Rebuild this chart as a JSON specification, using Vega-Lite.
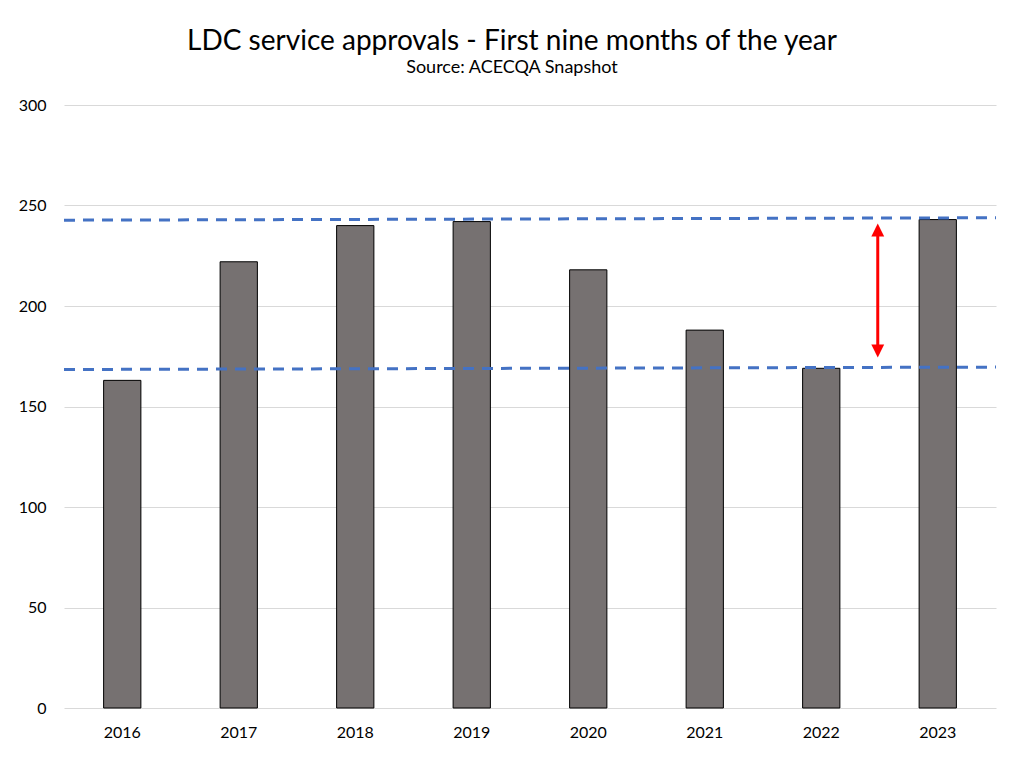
{
  "$schema": "https://vega.github.io/schema/vega-lite/v6.json",
  "width": 932,
  "height": 603,
  "autosize": {"type": "none"},
  "padding": {"left": 64, "top": 105, "right": 28, "bottom": 55},
  "background": "white",
  "title": {
    "text": "LDC service approvals - First nine months of the year",
    "subtitle": "Source: ACECQA Snapshot",
    "anchor": "middle",
    "frame": "group",
    "dx": -18,
    "font": "Lato",
    "fontSize": 28,
    "fontWeight": "normal",
    "color": "black",
    "subtitleFont": "Lato",
    "subtitleFontSize": 18,
    "subtitleColor": "black",
    "subtitlePadding": 3,
    "offset": 20
  },
  "config": {"view": {"stroke": null}, "font": "Lato"},
  "datasets": {
    "bars": [
      {"year": "2016", "value": 163},
      {"year": "2017", "value": 222},
      {"year": "2018", "value": 240},
      {"year": "2019", "value": 242},
      {"year": "2020", "value": 218},
      {"year": "2021", "value": 188},
      {"year": "2022", "value": 169},
      {"year": "2023", "value": 243}
    ],
    "refs": [
      {"line": "upper", "start": 242.7, "end": 243.9},
      {"line": "lower", "start": 168.4, "end": 169.6}
    ],
    "arrow": [
      {"pos": 6.985, "top": 237.8, "bottom": 177.6}
    ]
  },
  "layer": [
    {
      "data": {"name": "bars"},
      "mark": {"type": "bar", "fill": "#767171", "stroke": "#000000", "strokeWidth": 1},
      "encoding": {
        "x": {
          "field": "year", "type": "ordinal",
          "scale": {"paddingInner": 0.68, "paddingOuter": 0.34},
          "axis": {"title": null, "labelAngle": 0, "domain": false, "ticks": false,
                   "labelFont": "Lato", "labelFontSize": 16, "labelColor": "black", "labelPadding": 16}
        },
        "y": {
          "field": "value", "type": "quantitative",
          "scale": {"domain": [0, 300]},
          "axis": {"title": null, "values": [0, 50, 100, 150, 200, 250, 300], "domain": false, "ticks": false,
                   "gridColor": "#d9d9d9", "gridWidth": 1, "labelFont": "Lato", "labelFontSize": 16,
                   "labelColor": "black", "labelPadding": 18}
        }
      }
    },
    {
      "data": {"name": "refs"},
      "mark": {"type": "rule", "color": "#4472C4", "strokeWidth": 3, "strokeDash": [11, 8]},
      "encoding": {
        "x": {"datum": 0, "type": "quantitative", "scale": {"domain": [0, 8]}, "axis": null},
        "x2": {"datum": 8},
        "y": {"field": "start", "type": "quantitative", "title": null},
        "y2": {"field": "end"}
      }
    },
    {
      "data": {"name": "arrow"},
      "mark": {"type": "rule", "color": "#FF0000", "strokeWidth": 3},
      "encoding": {
        "x": {"field": "pos", "type": "quantitative", "scale": {"domain": [0, 8]}, "axis": null},
        "y": {"field": "top", "type": "quantitative", "title": null},
        "y2": {"field": "bottom"}
      }
    },
    {
      "data": {"name": "arrow"},
      "mark": {"type": "point", "shape": "M0,-1L-1,1L1,1Z", "filled": true, "color": "#FF0000", "size": 165, "opacity": 1, "strokeWidth": 0},
      "encoding": {
        "x": {"field": "pos", "type": "quantitative", "scale": {"domain": [0, 8]}, "axis": null},
        "y": {"field": "top", "type": "quantitative", "title": null}
      }
    },
    {
      "data": {"name": "arrow"},
      "mark": {"type": "point", "shape": "M0,1L-1,-1L1,-1Z", "filled": true, "color": "#FF0000", "size": 165, "opacity": 1, "strokeWidth": 0},
      "encoding": {
        "x": {"field": "pos", "type": "quantitative", "scale": {"domain": [0, 8]}, "axis": null},
        "y": {"field": "bottom", "type": "quantitative", "title": null}
      }
    }
  ],
  "resolve": {"scale": {"x": "independent"}}
}
